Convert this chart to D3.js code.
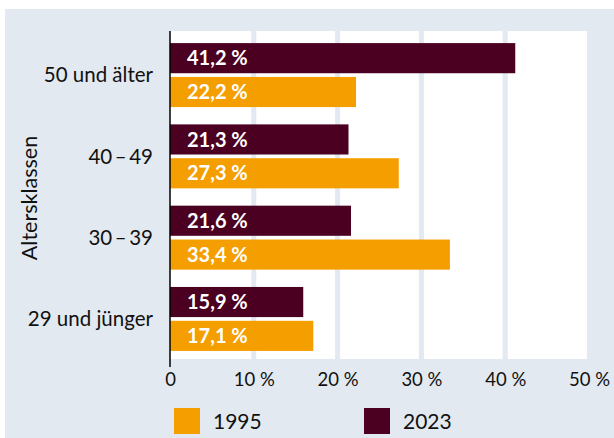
<!DOCTYPE html>
<html>
<head>
<meta charset="utf-8">
<script src="https://cdn.jsdelivr.net/npm/d3@7"></script>
<style>
  body { margin: 0; background: #fff; }
  svg { display: block; font-family: Lato, "Open Sans", sans-serif; }
</style>
</head>
<body>
<svg id="chart" width="614" height="438"></svg>
<script>
// Altersklassen, von oben nach unten
const categories = ["50 und älter", "40\u2009–\u200949", "30\u2009–\u200939", "29 und jünger"];
const years = ["2023", "1995"];
const values2023 = [41.2, 21.3, 21.6, 15.9];
const values1995 = [22.2, 27.3, 33.4, 17.1];
const xTicks = [0, 10, 20, 30, 40, 50];
const legendItems = ["1995", "2023"];

const colors = { "1995": "#f59e00", "2023": "#4b0022" };
const bgColor = "#e3e9f0";

const svg = d3.select("#chart");

// Hintergrundfläche
svg.append("rect")
  .attr("x", 5).attr("y", 9)
  .attr("width", 609).attr("height", 429)
  .attr("fill", bgColor);

const plot = { left: 170, right: 589, top: 31, bottom: 359 };

const x = d3.scaleLinear().domain([0, 50]).range([plot.left, plot.right]);

const y = d3.scaleBand()
  .domain(categories)
  .range([plot.top, plot.bottom])
  .paddingInner(0.213)
  .paddingOuter(0.124)
  .align(0.6);

const ySub = d3.scaleBand()
  .domain(years)
  .range([0, y.bandwidth()])
  .paddingInner(0.11);

// weiße Plotfläche
svg.append("rect")
  .attr("x", plot.left)
  .attr("y", plot.top)
  .attr("width", x(50) - 2 - plot.left)
  .attr("height", plot.bottom - plot.top)
  .attr("fill", "#fff");

// Gitterlinien
svg.selectAll(".grid")
  .data(xTicks.filter((d) => d > 0 && d < 50))
  .enter()
  .append("line")
  .attr("class", "grid")
  .attr("x1", (d) => x(d)).attr("x2", (d) => x(d))
  .attr("y1", plot.top).attr("y2", plot.bottom)
  .attr("stroke", bgColor)
  .attr("stroke-width", 5);

const rows = categories.map((c, i) => ({
  cat: c,
  bars: [
    { year: "2023", value: values2023[i] },
    { year: "1995", value: values1995[i] },
  ],
}));

const fmt = (v) => d3.format(".1f")(v).replace(".", ",") + "\u00a0%";

const group = svg.selectAll(".row")
  .data(rows)
  .enter()
  .append("g")
  .attr("class", "row")
  .attr("transform", (d) => `translate(0,${y(d.cat)})`);

group.selectAll("rect")
  .data((d) => d.bars)
  .enter()
  .append("rect")
  .attr("x", x(0))
  .attr("y", (d) => ySub(d.year))
  .attr("width", (d) => x(d.value) - x(0))
  .attr("height", ySub.bandwidth())
  .attr("fill", (d) => colors[d.year]);

group.selectAll("text")
  .data((d) => d.bars)
  .enter()
  .append("text")
  .attr("x", x(0) + 17)
  .attr("y", (d) => ySub(d.year) + ySub.bandwidth() / 2)
  .attr("dy", "0.36em")
  .attr("fill", "#fff")
  .style("font-size", "20px")
  .style("font-weight", "bold")
  .text((d) => fmt(d.value));

// y-Achse
const yAxis = svg.append("g")
  .attr("transform", `translate(${plot.left},0)`)
  .call(d3.axisLeft(y).tickSize(0).tickPadding(17));
yAxis.select(".domain").remove();
yAxis.append("line")
  .attr("x1", 0).attr("x2", 0)
  .attr("y1", plot.top).attr("y2", plot.bottom + 8)
  .attr("stroke", "#000")
  .attr("stroke-width", 1.5);
yAxis.selectAll("text")
  .style("font-size", "20.5px")
  .style("font-family", "Lato, sans-serif")
  .attr("fill", "#111")
  .attr("dy", "0.36em");

// x-Achse
const xAxis = svg.append("g")
  .attr("transform", `translate(0,${plot.bottom})`)
  .call(
    d3.axisBottom(x)
      .tickValues(xTicks)
      .tickSize(0)
      .tickPadding(14)
      .tickFormat((d) => (d === 0 ? "0" : d + "\u00a0%"))
  );
xAxis.select(".domain").remove();
xAxis.selectAll("text")
  .style("font-size", "18.5px")
  .style("font-family", "Lato, sans-serif")
  .attr("fill", "#111");

// Achsentitel
svg.append("text")
  .attr("transform", "translate(37,198) rotate(-90)")
  .attr("text-anchor", "middle")
  .style("font-size", "21.5px")
  .attr("fill", "#111")
  .text("Altersklassen");

// Legende
const legend = svg.selectAll(".legend")
  .data(legendItems)
  .enter()
  .append("g")
  .attr("class", "legend")
  .attr("transform", (d, i) => `translate(${174 + i * 190},408)`);

legend.append("rect")
  .attr("width", 26).attr("height", 26)
  .attr("fill", (d) => colors[d]);

legend.append("text")
  .attr("x", 39).attr("y", 13)
  .attr("dy", "0.36em")
  .style("font-size", "21px")
  .attr("fill", "#111")
  .text((d) => d);
</script>
</body>
</html>
